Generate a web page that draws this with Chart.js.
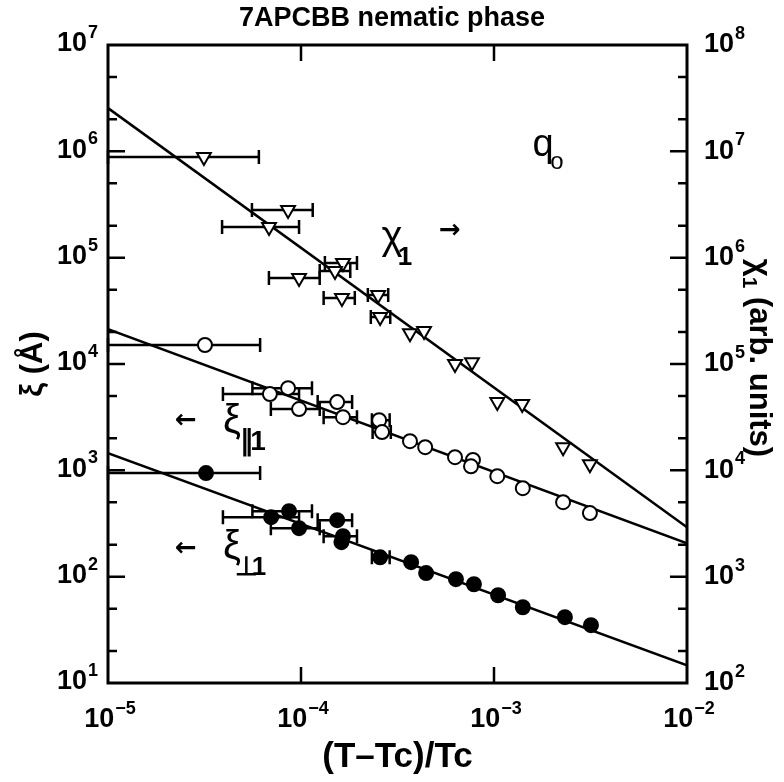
<!DOCTYPE html>
<html>
<head>
<meta charset="utf-8">
<title>7APCBB nematic phase</title>
<script src="https://cdn.jsdelivr.net/npm/chart.js@4.4.1/dist/chart.umd.min.js"></script>
<style>
  html, body { margin: 0; padding: 0; background: #fff; }
  #wrap { width: 784px; height: 782px; }
</style>
</head>
<body>
<div id="wrap"><canvas id="c" width="784" height="782"></canvas></div>
<script>
// ---- data: reduced temperature (T-Tc)/Tc, values and horizontal error bounds ----
// chi_1 susceptibility (right axis, arb. units)
const chiT   = [3.14e-5, 8.57e-5, 6.83e-5, 9.77e-5, 1.65e-4, 1.50e-4, 1.63e-4, 2.51e-4, 2.57e-4, 3.67e-4, 4.34e-4, 6.28e-4, 7.69e-4, 1.04e-3, 1.40e-3, 2.28e-3, 3.14e-3];
const chiVal = [8.83e6, 2.81e6, 1.94e6, 6.43e5, 8.89e5, 7.48e5, 4.17e5, 4.45e5, 2.76e5, 1.95e5, 2.04e5, 9.98e4, 1.04e5, 4.38e4, 4.20e4, 1.65e4, 1.14e4];
const chiLo  = [1.0e-5, 5.57e-5, 3.90e-5, 6.82e-5, 1.33e-4, 1.25e-4, 1.31e-4, 2.22e-4, 2.30e-4, null, null, null, null, null, null, null, null];
const chiHi  = [6.05e-5, 1.15e-4, 9.77e-5, 1.25e-4, 1.95e-4, 1.80e-4, 1.90e-4, 2.83e-4, 2.90e-4, null, null, null, null, null, null, null, null];

// parallel correlation length xi_||1 (left axis, Angstrom)
const parT   = [3.18e-5, 8.57e-5, 6.90e-5, 9.77e-5, 1.54e-4, 1.65e-4, 2.54e-4, 2.63e-4, 3.67e-4, 4.40e-4, 6.28e-4, 7.78e-4, 7.60e-4, 1.04e-3, 1.41e-3, 2.28e-3, 3.14e-3];
const parVal = [1.51e4, 5.93e3, 5.21e3, 3.77e3, 4.38e3, 3.16e3, 2.96e3, 2.29e3, 1.88e3, 1.65e3, 1.33e3, 1.25e3, 1.09e3, 881, 680, 502, 396];
const parLo  = [1.0e-5, 5.60e-5, 3.94e-5, 6.98e-5, 1.22e-4, 1.31e-4, 2.33e-4, 2.35e-4, null, null, null, null, null, null, null, null, null];
const parHi  = [6.14e-5, 1.14e-4, 9.77e-5, 1.25e-4, 1.84e-4, 1.95e-4, 2.88e-4, 2.92e-4, null, null, null, null, null, null, null, null, null];

// perpendicular correlation length xi_perp1 (left axis, Angstrom)
const perpT   = [3.22e-5, 8.67e-5, 7.00e-5, 9.77e-5, 1.54e-4, 1.65e-4, 1.62e-4, 2.57e-4, 3.72e-4, 4.45e-4, 6.35e-4, 7.87e-4, 1.05e-3, 1.41e-3, 2.33e-3, 3.18e-3];
const perpVal = [942, 413, 363, 286, 340, 240, 211, 152, 137, 108, 94.7, 84.9, 66.9, 51.6, 41.6, 35.0];
const perpLo  = [1.0e-5, 5.60e-5, 3.94e-5, 6.98e-5, 1.22e-4, 1.31e-4, null, 2.33e-4, null, null, null, null, null, null, null, null];
const perpHi  = [6.14e-5, 1.14e-4, 9.77e-5, 1.25e-4, 1.84e-4, 1.95e-4, null, 2.88e-4, null, null, null, null, null, null, null, null];

// power-law fits, evaluated at the ends of the temperature range
const fitT    = [1e-5, 1e-2];
const chiFit  = [2.55e7, 2.92e3];
const parFit  = [2.13e4, 206];
const perpFit = [1452, 14.7];

// axis ticks
const xTicks     = [1e-5, 1e-4, 1e-3, 1e-2];
const leftTicks  = [1e1, 1e2, 1e3, 1e4, 1e5, 1e6, 1e7];
const rightTicks = [1e2, 1e3, 1e4, 1e5, 1e6, 1e7, 1e8];
const minorMult  = [2, 5];

const NARROW = "'Liberation Sans Narrow', 'Arial Narrow', 'Liberation Sans', sans-serif";
const SANS = "'Liberation Sans', Arial, sans-serif";
const ARROW = "'DejaVu Sans', sans-serif";

const pts = (xs, ys) => xs.map((x, i) => ({ x, y: ys[i] }));

// horizontal error bars with end caps, drawn beneath the markers
const errorBars = {
  id: 'errorBars',
  beforeDatasetsDraw(chart) {
    const { ctx, scales } = chart;
    const sets = [
      [chiT, chiVal, chiLo, chiHi, scales.y2],
      [parT, parVal, parLo, parHi, scales.y],
      [perpT, perpVal, perpLo, perpHi, scales.y]
    ];
    ctx.save();
    ctx.strokeStyle = '#000';
    ctx.lineWidth = 2.5;
    ctx.lineCap = 'butt';
    for (const [t, v, lo, hi, ys] of sets) {
      t.forEach((_, i) => {
        if (lo[i] == null) return;
        const py = ys.getPixelForValue(v[i]);
        const x0 = scales.x.getPixelForValue(lo[i]);
        const x1 = scales.x.getPixelForValue(hi[i]);
        ctx.beginPath();
        ctx.moveTo(x0, py); ctx.lineTo(x1, py);
        ctx.moveTo(x0, py - 7); ctx.lineTo(x0, py + 7);
        ctx.moveTo(x1, py - 7); ctx.lineTo(x1, py + 7);
        ctx.stroke();
      });
    }
    ctx.restore();
  }
};

// "10" with a raised exponent
function drawPower(ctx, exponent, x, y, align) {
  const base = '10';
  const e = String(exponent).replace('-', '\u2212');
  ctx.font = `bold 27px ${NARROW}`;
  const wb = ctx.measureText(base).width;
  ctx.font = `bold 18px ${NARROW}`;
  const we = ctx.measureText(e).width;
  const total = wb + 1 + we;
  const sx = align === 'right' ? x - total : align === 'center' ? x - total / 2 : x;
  ctx.textAlign = 'left';
  ctx.textBaseline = 'middle';
  ctx.font = `bold 27px ${NARROW}`;
  ctx.fillText(base, sx, y);
  ctx.font = `bold 18px ${NARROW}`;
  ctx.fillText(e, sx + wb + 1, y - 11);
}

// plot frame, inward ticks, tick labels and in-plot annotations
const frame = {
  id: 'frame',
  afterDraw(chart) {
    const { ctx, chartArea: a, scales: { x, y, y2 } } = chart;
    ctx.save();
    ctx.strokeStyle = '#000';
    ctx.fillStyle = '#000';
    ctx.lineWidth = 3;
    ctx.strokeRect(a.left, a.top, a.right - a.left, a.bottom - a.top);

    ctx.lineWidth = 2.5;
    ctx.beginPath();
    xTicks.slice(1, -1).forEach(v => {
      const px = x.getPixelForValue(v);
      ctx.moveTo(px, a.bottom); ctx.lineTo(px, a.bottom - 16);
      ctx.moveTo(px, a.top); ctx.lineTo(px, a.top + 16);
    });
    const yTicks = (scale, list, edge, dir) => {
      list.forEach(d => {
        [1, ...minorMult].forEach(m => {
          const v = d * m;
          if (v <= scale.min || v >= scale.max) return;
          const py = scale.getPixelForValue(v);
          const len = m === 1 ? 17 : 9;
          ctx.moveTo(edge, py); ctx.lineTo(edge + dir * len, py);
        });
      });
    };
    yTicks(y, leftTicks, a.left, 1);
    yTicks(y2, rightTicks, a.right, -1);
    ctx.stroke();

    xTicks.forEach(v => drawPower(ctx, Math.round(Math.log10(v)), x.getPixelForValue(v) + 2, a.bottom + 37, 'center'));
    leftTicks.forEach(v => drawPower(ctx, Math.round(Math.log10(v)), a.left - 10, y.getPixelForValue(v) - 1, 'right'));
    rightTicks.forEach(v => drawPower(ctx, Math.round(Math.log10(v)), a.right + 17, y2.getPixelForValue(v), 'left'));

    // right axis title, reading downwards
    ctx.save();
    ctx.translate(759, 358);
    ctx.rotate(Math.PI / 2);
    ctx.textBaseline = 'middle';
    ctx.font = `bold 31px ${SANS}`;
    const t1 = '\u03C7', t2 = '1', t3 = ' (arb. units)';
    const w1 = ctx.measureText(t1).width;
    const w3 = ctx.measureText(t3).width;
    ctx.font = `bold 21px ${SANS}`;
    const w2 = ctx.measureText(t2).width;
    const sx = -(w1 + w2 + w3) / 2;
    ctx.textAlign = 'left';
    ctx.font = `bold 31px ${SANS}`;
    ctx.fillText(t1, sx, 0);
    ctx.font = `bold 21px ${SANS}`;
    ctx.fillText(t2, sx + w1, 10);
    ctx.font = `bold 31px ${SANS}`;
    ctx.fillText(t3, sx + w1 + w2, 0);
    ctx.restore();

    // in-plot labels
    ctx.textAlign = 'center';
    ctx.textBaseline = 'middle';
    ctx.font = `38px ${NARROW}`;
    ctx.fillText('q', 543, 146);
    ctx.font = `24px ${NARROW}`;
    ctx.fillText('o', 557, 162);

    ctx.font = `40px ${NARROW}`;
    ctx.fillText('\u03C7', 392, 238);
    ctx.font = `bold 26px ${NARROW}`;
    ctx.fillText('1', 405, 258);
    ctx.font = `bold 26px ${ARROW}`;
    ctx.fillText('\u2192', 450, 231);

    ctx.fillText('\u2190', 186, 421);
    ctx.font = `40px ${NARROW}`;
    ctx.fillText('\u03BE', 232, 422);
    ctx.font = `bold 28px ${NARROW}`;
    ctx.fillText('\u2225', 247, 442);
    ctx.fillText('1', 258, 442);

    ctx.font = `bold 26px ${ARROW}`;
    ctx.fillText('\u2190', 186, 549);
    ctx.font = `40px ${NARROW}`;
    ctx.fillText('\u03BE', 232, 548);
    ctx.font = `bold 26px ${NARROW}`;
    ctx.fillText('\u22A5', 246, 568);
    ctx.fillText('1', 259, 568);
    ctx.restore();
  }
};

new Chart(document.getElementById('c'), {
  type: 'scatter',
  data: {
    datasets: [
      { label: 'chi1', data: pts(chiT, chiVal), yAxisID: 'y2', pointStyle: 'triangle', rotation: 180,
        pointRadius: 8, backgroundColor: '#fff', borderColor: '#000', borderWidth: 2, order: 1 },
      { label: 'xi par', data: pts(parT, parVal), yAxisID: 'y', pointStyle: 'circle',
        pointRadius: 7, backgroundColor: '#fff', borderColor: '#000', borderWidth: 2, order: 1 },
      { label: 'xi perp', data: pts(perpT, perpVal), yAxisID: 'y', pointStyle: 'circle',
        pointRadius: 7, backgroundColor: '#000', borderColor: '#000', borderWidth: 2, order: 1 },
      { label: 'chi1 fit', data: pts(fitT, chiFit), yAxisID: 'y2', showLine: true, pointRadius: 0,
        borderColor: '#000', borderWidth: 2.5, order: 2 },
      { label: 'xi par fit', data: pts(fitT, parFit), yAxisID: 'y', showLine: true, pointRadius: 0,
        borderColor: '#000', borderWidth: 2.5, order: 2 },
      { label: 'xi perp fit', data: pts(fitT, perpFit), yAxisID: 'y', showLine: true, pointRadius: 0,
        borderColor: '#000', borderWidth: 2.5, order: 2 }
    ]
  },
  options: {
    responsive: false,
    animation: false,
    devicePixelRatio: 1,
    layout: { padding: 0, autoPadding: false },
    plugins: {
      legend: { display: false },
      tooltip: { enabled: false },
      title: {
        display: true,
        text: '7APCBB nematic phase',
        color: '#000',
        font: { family: NARROW, size: 27, weight: 'bold', lineHeight: 1 },
        padding: { top: 5, bottom: 13 }
      }
    },
    scales: {
      x: {
        type: 'logarithmic', position: 'bottom', min: 1e-5, max: 1e-2,
        grid: { display: false }, border: { display: false }, ticks: { display: false },
        title: { display: true, text: '(T\u2013Tc)/Tc', color: '#000', font: { family: NARROW, size: 35, weight: 'bold', lineHeight: 1.2 }, padding: { top: 0, bottom: 4 } },
        afterFit(s) { s.height = 99; }
      },
      y: {
        type: 'logarithmic', position: 'left', min: 10, max: 1e7,
        grid: { display: false }, border: { display: false }, ticks: { display: false },
        title: { display: true, text: '\u03BE (\u00C5)', color: '#000', font: { family: SANS, size: 31, weight: 'bold', lineHeight: 1.2 }, padding: { top: 15, bottom: 0 } },
        afterFit(s) { s.width = 108; }
      },
      y2: {
        type: 'logarithmic', position: 'right', min: 100, max: 1e8,
        grid: { display: false }, border: { display: false }, ticks: { display: false },
        afterFit(s) { s.width = 97; }
      }
    }
  },
  plugins: [errorBars, frame]
});
</script>
</body>
</html>
